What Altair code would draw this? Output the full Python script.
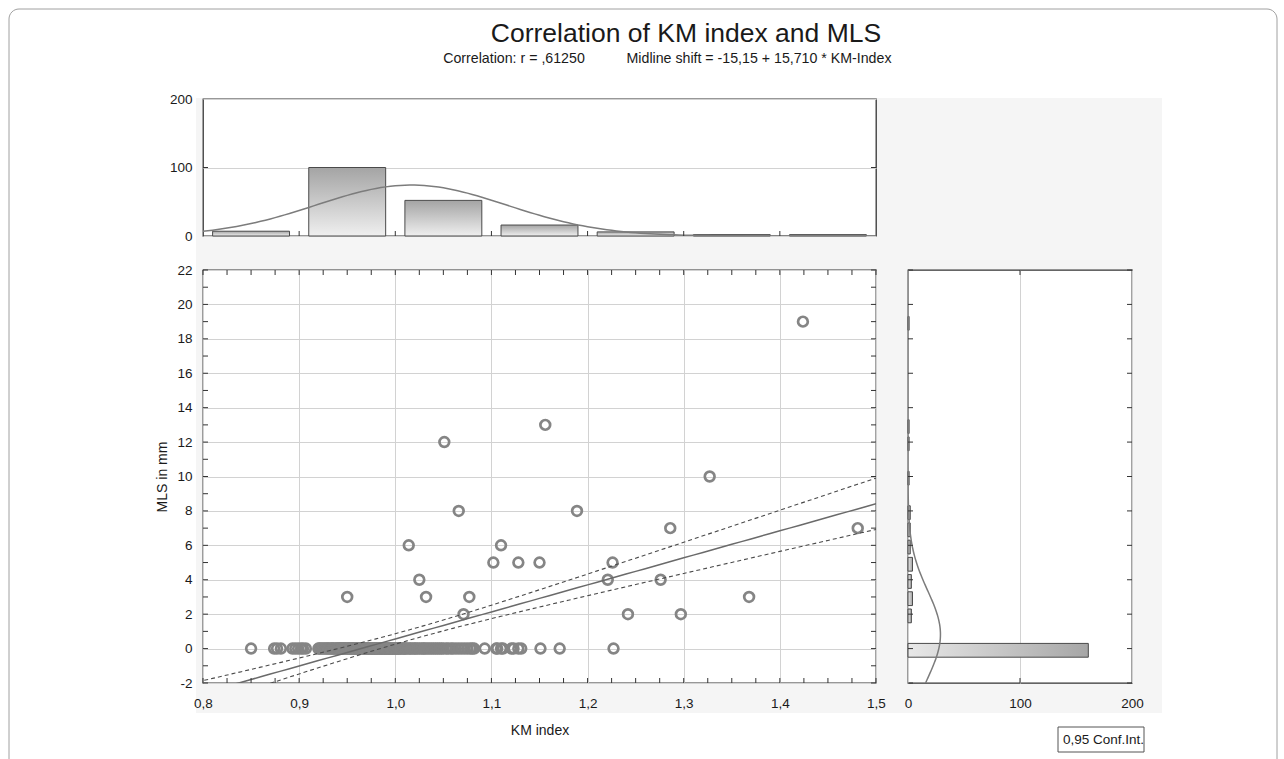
import altair as alt
import pandas as pd
import numpy as np

FONT = "Liberation Sans"

TITLE = "Correlation of KM index and MLS"
SUB_R = "Correlation: r = ,61250"
SUB_EQ = "Midline shift = -15,15 + 15,710 * KM-Index"
LEGEND_TEXT = "0,95 Conf.Int."
INTERCEPT = -15.15
SLOPE = 15.710

zero_km = [
    0.850, 0.874, 0.877, 0.881, 0.893, 0.896, 0.899,
    0.902, 0.904, 0.907,
    0.920, 0.921, 0.923, 0.924, 0.926, 0.927, 0.929, 0.930, 0.931, 0.933,
    0.934, 0.935, 0.936, 0.938, 0.939, 0.940, 0.941, 0.942, 0.943, 0.944,
    0.945, 0.946, 0.947, 0.948, 0.949, 0.950, 0.951, 0.952, 0.952, 0.953,
    0.954, 0.955, 0.955, 0.956, 0.957, 0.958, 0.959, 0.960, 0.960, 0.961,
    0.962, 0.963, 0.964, 0.965, 0.965, 0.966, 0.967, 0.968, 0.969, 0.970,
    0.970, 0.971, 0.972, 0.973, 0.974, 0.975, 0.975, 0.976, 0.977, 0.978,
    0.979, 0.980, 0.980, 0.981, 0.982, 0.983, 0.984, 0.985, 0.985, 0.986,
    0.987, 0.988, 0.989, 0.990, 0.990, 0.991, 0.992, 0.993, 0.994, 0.995,
    0.995, 0.996, 0.997, 0.998, 0.999, 0.944, 0.962, 0.978,
    1.000, 1.001, 1.002, 1.003, 1.004, 1.005, 1.006, 1.008, 1.009, 1.010,
    1.011, 1.013, 1.015, 1.016, 1.018, 1.020, 1.021, 1.023, 1.025, 1.027,
    1.029, 1.030, 1.032, 1.034, 1.036, 1.038, 1.040, 1.042, 1.044, 1.046,
    1.048, 1.050, 1.053, 1.055, 1.058, 1.060, 1.063, 1.066, 1.069, 1.072,
    1.075, 1.078, 1.080, 1.082, 1.093,
    1.105, 1.106, 1.110, 1.112, 1.121, 1.123, 1.128, 1.131, 1.151, 1.171,
    1.227,
]

# cases with MLS > 0
nz_km = [0.950, 1.014, 1.025, 1.032, 1.051, 1.066, 1.071, 1.077, 1.102, 1.110,
         1.128, 1.150, 1.156, 1.189, 1.221, 1.226, 1.242, 1.276, 1.286, 1.297,
         1.327, 1.368, 1.424, 1.481]
nz_mls = [3, 6, 4, 3, 12, 8, 2, 3, 5, 6,
          5, 5, 13, 8, 4, 5, 2, 4, 7, 2,
          10, 3, 19, 7]

# marginal histograms
top_bin_start = [0.8, 0.9, 1.0, 1.1, 1.2, 1.3, 1.4]
top_counts = [7, 100, 52, 16, 6, 2, 2]
right_bin_start = [-0.6, 1.4, 2.4, 3.4, 4.4, 5.4, 6.4, 7.4, 9.4, 11.4, 12.4, 18.4]
right_counts = [161, 3, 4, 3, 4, 2, 2, 2, 1, 1, 1, 1]

# axis tick positions
km_major = [0.8, 0.9, 1.0, 1.1, 1.2, 1.3, 1.4, 1.5]
km_minor = [round(0.8 + 0.025 * i, 3) for i in range(29)]
mls_major = list(range(-2, 23, 2))
mls_minor = list(range(-2, 23, 1))
count_major = [0, 100, 200]

# ---------------------------------------------------------------- data frames
km = np.array(zero_km + nz_km)
mls = np.array([0] * len(zero_km) + nz_mls, dtype=float)
scatter_df = pd.DataFrame({"km": km, "mls": mls})
n = len(km)

top_df = pd.DataFrame({"start": top_bin_start, "count": top_counts})
top_df["x0"] = top_df["start"] + 0.01
top_df["x1"] = top_df["start"] + 0.09

right_df = pd.DataFrame({"start": right_bin_start, "count": right_counts})
right_df["y0"] = right_df["start"] + 0.1
right_df["y1"] = right_df["start"] + 0.9

# fitted normal curves
mx, sx = km.mean(), km.std(ddof=1)
my, sy = mls.mean(), mls.std(ddof=1)
gx = np.linspace(0.8, 1.5, 141)
top_curve = pd.DataFrame({"x": gx, "y": sum(top_counts) * 0.1 *
                          np.exp(-0.5 * ((gx - mx) / sx) ** 2) / (sx * np.sqrt(2 * np.pi))})
gy = np.linspace(-2, 22, 241)
right_curve = pd.DataFrame({"y": gy, "x": sum(right_counts) * 1.0 *
                            np.exp(-0.5 * ((gy - my) / sy) ** 2) / (sy * np.sqrt(2 * np.pi))})

# regression line + 95% confidence band
resid = mls - (INTERCEPT + SLOPE * km)
s = np.sqrt((resid ** 2).sum() / (n - 2))
sxx = ((km - mx) ** 2).sum()
rx = np.linspace(0.78, 1.52, 75)
fit = INTERCEPT + SLOPE * rx
se = s * np.sqrt(1.0 / n + (rx - mx) ** 2 / sxx)
reg_df = pd.DataFrame({"x": rx, "fit": fit, "lo": fit - 1.973 * se, "hi": fit + 1.973 * se})

# ---------------------------------------------------------------- styling
W_MAIN, H_TOP, H_MAIN, W_RIGHT = 673, 137, 413, 224
GRID = "#d2d2d2"
TICK = "#333333"
TL = 5
xscale = alt.Scale(domain=[0.8, 1.5], nice=False, zero=False)
yscale = alt.Scale(domain=[-2, 22], nice=False, zero=False)
cscale = alt.Scale(domain=[0, 200], nice=False)
comma_fmt = "replace(format(datum.value, '.1f'), '.', ',')"
plain_fmt = "'' + datum.value"

# one axis definition per panel/channel, shared by every layer using it
AX_TOP_X = None
AX_TOP_Y = alt.Axis(values=count_major, title=None, grid=True, labelPadding=11, tickSize=0,
                    labelOverlap=False, labelFlush=False)
AX_SC_X = alt.Axis(values=km_major, labelExpr=comma_fmt, labelFlush=False, labelOverlap=False,
                   title="KM index", grid=True, tickSize=0, labelPadding=13, titlePadding=14)
AX_SC_Y = alt.Axis(values=mls_major, labelExpr=plain_fmt, title="MLS in mm", grid=True,
                   labelOverlap=False, labelFlush=False, tickSize=0, labelPadding=11, titlePadding=7)
AX_R_X = alt.Axis(values=count_major, title=None, grid=True, tickSize=0, labelPadding=13,
                  labelFlush=False, labelOverlap=False)
AX_R_Y = None

bar_grad_v = alt.Gradient(gradient="linear", x1=0, x2=0, y1=0, y2=1,
                          stops=[alt.GradientStop(color="#a4a4a4", offset=0),
                                 alt.GradientStop(color="#efefef", offset=1)])
bar_grad_h = alt.Gradient(gradient="linear", x1=0, x2=1, y1=0, y2=0,
                          stops=[alt.GradientStop(color="#e8e8e8", offset=0),
                                 alt.GradientStop(color="#a6a6a6", offset=1)])

one = pd.DataFrame({"a": [0]})


def box(x, x2, y, y2, **kw):
    return alt.Chart(one).mark_rect(**kw).encode(
        x=alt.value(x), x2=alt.value(x2), y=alt.value(y), y2=alt.value(y2))


def label(text, x, y, size, align="center"):
    return alt.Chart(one).mark_text(text=text, font=FONT, fontSize=size, color="#1a1a1a",
                                    align=align, baseline="middle").encode(
        x=alt.value(x), y=alt.value(y))


def X(field, scale, axis):
    return alt.X(field, scale=scale, axis=axis)


def Y(field, scale, axis):
    return alt.Y(field, scale=scale, axis=axis)


def xticks(values, scale, axis, h):
    df = pd.DataFrame({"v": values})
    base = alt.Chart(df).mark_rule(color=TICK, strokeWidth=1)
    return [base.encode(x=X("v:Q", scale, axis), y=alt.value(h), y2=alt.value(h - TL)),
            base.encode(x=X("v:Q", scale, axis), y=alt.value(0), y2=alt.value(TL))]


def yticks(values, scale, axis, w):
    df = pd.DataFrame({"v": values})
    base = alt.Chart(df).mark_rule(color=TICK, strokeWidth=1)
    return [base.encode(y=Y("v:Q", scale, axis), x=alt.value(0), x2=alt.value(TL)),
            base.encode(y=Y("v:Q", scale, axis), x=alt.value(w), x2=alt.value(w - TL))]


# ---------------------------------------------------------------- top histogram
grey = "#f5f5f5"
bg_parts = [
    box(-194, 1074, -90, 690, filled=False, stroke="#a0a0a0", strokeWidth=1, cornerRadius=10),
    box(-7, 959, 138, 614, fill=grey),
    box(674, 959, -1, 138, fill=grey),
    box(-7, -1, -1, 138, fill=grey),
]

top_bars = alt.Chart(top_df).mark_rect(fill=bar_grad_v, stroke="#4a4a4a", strokeWidth=1).encode(
    x=X("x0:Q", xscale, AX_TOP_X),
    x2="x1:Q",
    y=Y("count:Q", cscale, AX_TOP_Y),
    y2=alt.datum(0),
)
top_line = alt.Chart(top_curve).mark_line(color="#7c7c7c", strokeWidth=1.5, clip=True).encode(
    x=X("x:Q", xscale, AX_TOP_X), y=Y("y:Q", cscale, AX_TOP_Y))

titles = [
    label(TITLE, 483, -65, 26.5),
    label(SUB_R, 311, -40, 14.2),
    label(SUB_EQ, 556, -40, 14.2),
]

top_ticks = xticks(km_major[1:-1], xscale, AX_TOP_X, H_TOP)[:1] + yticks([100], cscale, AX_TOP_Y, W_MAIN)

top_chart = alt.layer(*bg_parts, top_bars, top_line, *top_ticks, *titles).properties(
    width=W_MAIN, height=H_TOP)

# ---------------------------------------------------------------- scatter
pts = alt.Chart(scatter_df).mark_point(shape="circle", filled=False, size=95, strokeWidth=2.7,
                                       color="#858585", opacity=1).encode(
    x=X("km:Q", xscale, AX_SC_X),
    y=Y("mls:Q", yscale, AX_SC_Y),
)
reg_line = alt.Chart(reg_df).mark_line(color="#6a6a6a", strokeWidth=1.5, clip=True).encode(
    x=X("x:Q", xscale, AX_SC_X), y=Y("fit:Q", yscale, AX_SC_Y))
reg_lo = alt.Chart(reg_df).mark_line(color="#4a4a4a", strokeWidth=1.1, strokeDash=[4, 3], clip=True).encode(
    x=X("x:Q", xscale, AX_SC_X), y=Y("lo:Q", yscale, AX_SC_Y))
reg_hi = alt.Chart(reg_df).mark_line(color="#4a4a4a", strokeWidth=1.1, strokeDash=[4, 3], clip=True).encode(
    x=X("x:Q", xscale, AX_SC_X), y=Y("hi:Q", yscale, AX_SC_Y))

sc_ticks = xticks(km_minor, xscale, AX_SC_X, H_MAIN) + yticks(mls_minor, yscale, AX_SC_Y, W_MAIN)

scatter_chart = alt.layer(pts, reg_line, reg_lo, reg_hi, *sc_ticks).properties(
    width=W_MAIN, height=H_MAIN)

# ---------------------------------------------------------------- right histogram
r_bars = alt.Chart(right_df).mark_rect(fill=bar_grad_h, stroke="#4a4a4a", strokeWidth=1).encode(
    x=X("count:Q", cscale, AX_R_X),
    x2=alt.datum(0),
    y=Y("y0:Q", yscale, AX_R_Y),
    y2="y1:Q",
)
r_line = alt.Chart(right_curve).mark_line(color="#7c7c7c", strokeWidth=1.5, clip=True, orient="horizontal").encode(
    x=X("x:Q", cscale, AX_R_X), y=Y("y:Q", yscale, AX_R_Y), order="y:Q")

r_ticks = yticks(mls_major, yscale, AX_R_Y, W_RIGHT) + xticks([100], cscale, AX_R_X, H_MAIN)

legend = [
    box(150, 236, 457, 482, fill="white", stroke="#555555", strokeWidth=1),
    label(LEGEND_TEXT, 155, 470, 13.5, align="left"),
]

right_chart = alt.layer(r_bars, r_line, *r_ticks, *legend).properties(width=W_RIGHT, height=H_MAIN)

# ---------------------------------------------------------------- compose
bottom = alt.hconcat(scatter_chart, right_chart, spacing=32, bounds="flush")
chart = alt.vconcat(top_chart, bottom, spacing=34, bounds="flush").properties(
    padding={"left": 7, "top": 7, "right": 0, "bottom": 0},
    background="white",
).configure_view(stroke="#333333", strokeWidth=1.3, fill="white").configure_axis(
    labelFont=FONT, titleFont=FONT, labelFontSize=13.5, titleFontSize=14,
    labelColor="#1a1a1a", titleColor="#1a1a1a", titleFontWeight="normal",
    gridColor=GRID, gridWidth=1, domain=False,
)

chart.save("out.html", embed_options={"renderer": "svg", "actions": False})
